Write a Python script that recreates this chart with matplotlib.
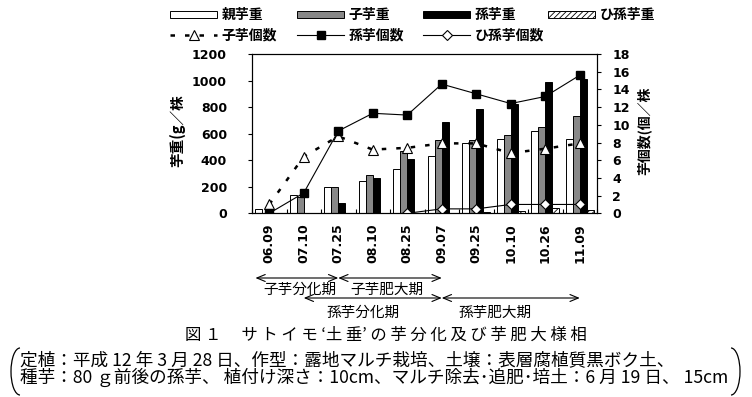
import numpy as np
import matplotlib
matplotlib.use('Agg')
import matplotlib.pyplot as plt
from matplotlib.patches import Arc
from matplotlib.transforms import IdentityTransform

plt.rcParams['font.family'] = ['Noto Sans CJK JP', 'DejaVu Sans']
plt.rcParams['hatch.linewidth'] = 0.6

W, H = 752, 397

dates = ['06.09', '07.10', '07.25', '08.10', '08.25',
         '09.07', '09.25', '10.10', '10.26', '11.09']

# weights (g / plant)
parent_wt = [30, 141, 196, 241, 330, 435, 527, 557, 617, 557]
child_wt = [0, 126, 196, 292, 467, 550, 555, 593, 647, 730]
grand_wt = [0, 5, 81, 267, 407, 685, 787, 822, 992, 1015]
great_wt = [np.nan, np.nan, np.nan, np.nan, np.nan, 5, 8, 17, 40, 22]

# counts (per plant)
child_num = [1.0, 6.4, 8.7, 7.2, 7.4, 7.9, 7.9, 6.8, 7.3, 7.9]
grand_num = [0.0, 2.3, 9.3, 11.3, 11.1, 14.6, 13.5, 12.4, 13.2, 15.6]
great_num = [np.nan, np.nan, np.nan, np.nan, 0.0, 0.5, 0.5, 1.0, 1.0, 1.0]

legend_cols = [['親芋重', '子芋個数'], ['子芋重', '孫芋個数'],
               ['孫芋重', 'ひ孫芋個数'], ['ひ孫芋重']]

# growth stage arrows: (start, end, label)
stages_top = [(-0.4, 2.0, '子芋分化期'), (2.0, 5.0, '子芋肥大期')]
stages_bot = [(1.0, 5.0, '孫芋分化期'), (5.0, 9.0, '孫芋肥大期')]

caption = '図 １ 　サ ト イ モ ‘土 垂’ の 芋 分 化 及 び 芋 肥 大 様 相'
note1 = '定植：平成 12 年 3 月 28 日、作型：露地マルチ栽培、土壌：表層腐植質黒ボク土、'
note2 = '種芋：80 ｇ前後の孫芋、 植付け深さ：10cm、マルチ除去･追肥･培土：6 月 19 日、 15cm'


def fx(px):
    return px / W


def fy(py):
    return 1 - py / H


def main():
    fig = plt.figure(figsize=(W / 100, H / 100), dpi=100)
    ax = fig.add_axes([fx(252), fy(213.3), (597 - 252) / W, (213.3 - 54) / H])
    ax2 = ax.twinx()

    x = np.arange(len(dates))
    w = 0.2
    bar_kw = dict(edgecolor='black', linewidth=0.7)
    b1 = ax.bar(x - 0.3, parent_wt, w, color='white', **bar_kw)
    b2 = ax.bar(x - 0.1, child_wt, w, color='#888888', **bar_kw)
    b3 = ax.bar(x + 0.1, grand_wt, w, color='black', **bar_kw)
    b4 = ax.bar(x + 0.3, great_wt, w, color='white', hatch='//////', **bar_kw)

    l1, = ax2.plot(x, child_num, color='black', lw=1.8, ls=(0, (1.8, 4)),
                   marker='^', ms=6.5, mfc='white', mec='black', mew=0.8)
    l2, = ax2.plot(x, grand_num, color='black', lw=0.8,
                   marker='s', ms=5.5, mfc='black', mec='black')
    l3, = ax2.plot(x, great_num, color='black', lw=0.8,
                   marker='D', ms=5, mfc='white', mec='black', mew=0.8)

    ax.set_xlim(-0.5, 9.5)
    ax.set_ylim(0, 1200)
    ax.set_yticks(range(0, 1201, 200))
    ax2.set_ylim(0, 18)
    ax2.set_yticks(range(0, 19, 2))

    ax.set_xticks(x)
    ax.set_xticklabels(dates, rotation=90)
    ax.set_xticks(np.arange(-0.5, 10, 1), minor=True)
    ax.tick_params(axis='x', which='major', length=0, pad=7)
    ax.tick_params(axis='x', which='minor', direction='in', length=3, width=0.8)
    ax.tick_params(axis='y', direction='out', length=3, width=0.8, pad=15)
    ax2.tick_params(axis='y', direction='out', length=3, width=0.8, pad=8)
    for lab in ax.get_xticklabels() + ax.get_yticklabels() + ax2.get_yticklabels():
        lab.set_fontfamily('DejaVu Sans')
        lab.set_fontweight('bold')
        lab.set_fontsize(9)
    for a in (ax, ax2):
        for sp in a.spines.values():
            sp.set_linewidth(0.8)

    fig.text(fx(177), fy(131), '芋重(g／株', rotation=90, ha='center',
             va='center', fontsize=10.5, fontweight='bold')
    fig.text(fx(644), fy(131), '芋個数(個／株', rotation=90, ha='center',
             va='center', fontsize=10, fontweight='bold')

    # legend, one block per column
    handles = [[b1, l1], [b2, l2], [b3, l3], [b4]]
    col_x = [170, 297, 423, 548]
    for hs, labs, cx in zip(handles, legend_cols, col_x):
        fig.legend(hs, labs, loc='upper left', bbox_to_anchor=(fx(cx), fy(8)),
                   frameon=False, borderaxespad=0, borderpad=0,
                   handlelength=3.4, handleheight=0.4, handletextpad=0.3,
                   labelspacing=0.45, prop=dict(weight='bold', size=10))

    # growth stage arrows
    arrow = dict(arrowstyle='<->,head_length=0.6,head_width=0.25', lw=0.8,
                 color='black', shrinkA=0, shrinkB=0)
    for (x0, x1, lab), ya in [(s, 278) for s in stages_top] + \
                             [(s, 298) for s in stages_bot]:
        ax.annotate('', xy=(x1, H - ya), xytext=(x0, H - ya),
                    xycoords=('data', 'figure pixels'),
                    textcoords=('data', 'figure pixels'),
                    arrowprops=arrow, annotation_clip=False)
    text_x = [300, 387, 363, 495]
    text_y = [290, 290, 313, 313]
    for (_, _, lab), tx, ty in zip(stages_top + stages_bot, text_x, text_y):
        fig.text(fx(tx), fy(ty), lab, ha='center', va='center', fontsize=10.5)

    fig.text(fx(386), fy(335), caption, ha='center', va='center', fontsize=11.8)
    fig.text(fx(20), fy(369.5), note1 + '\n' + note2, ha='left', va='center',
             fontsize=12.7, linespacing=0.85)

    tr = IdentityTransform()
    fig.add_artist(Arc((20, H - 371.5), 18, 47, theta1=90, theta2=270,
                       transform=tr, lw=0.9, color='black'))
    fig.add_artist(Arc((731, H - 371.5), 18, 47, theta1=-90, theta2=90,
                       transform=tr, lw=0.9, color='black'))

    fig.savefig('out.png', dpi=100)


if __name__ == "__main__":
    main()
